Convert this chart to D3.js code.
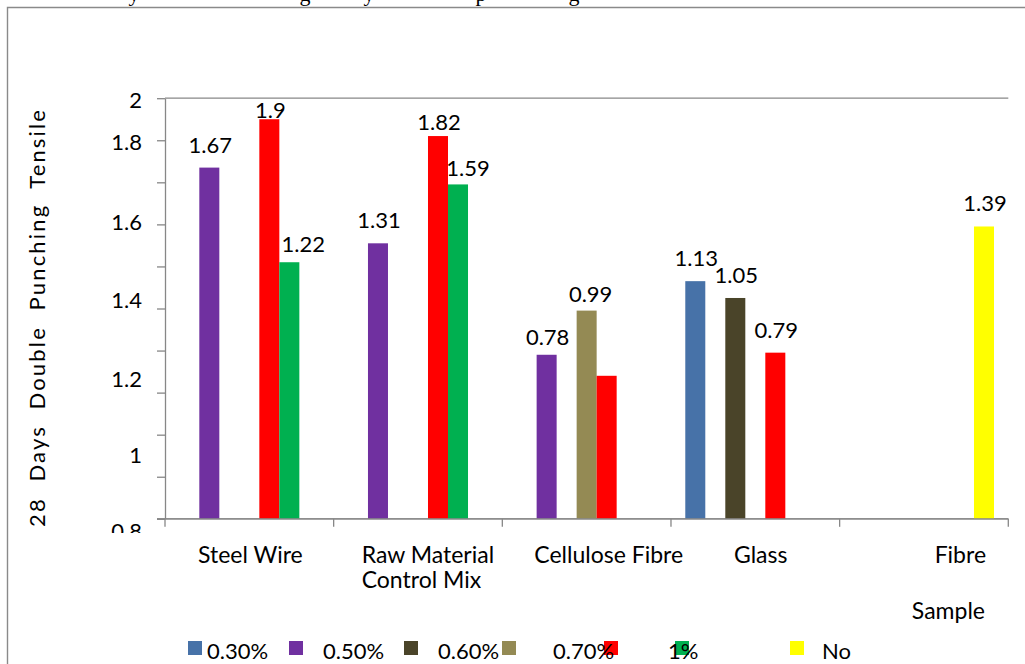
<!DOCTYPE html>
<html>
<head>
<meta charset="utf-8">
<script src="https://cdn.jsdelivr.net/npm/d3@7"></script>
<style>
  body { margin: 0; background: #fff; }
  svg { display: block; }
  text { font-family: Lato, "Noto Sans", sans-serif; fill: #000; }
</style>
</head>
<body>
<svg id="chart" width="1025" height="664"></svg>
<script>
// ---- data -------------------------------------------------------------
const categories = ["Steel Wire", "Raw Material Control Mix", "Cellulose Fibre", "Glass", "Fibre"];
const categoryLines = [["Steel Wire"], ["Raw Material", "Control Mix"], ["Cellulose Fibre"], ["Glass"], ["Fibre"]];

const seriesNames = ["0.30%", "0.50%", "0.60%", "0.70%", "", "1%", "No"];
const pct030  = [null, null, null, 1.13, null];
const pct050  = [1.67, 1.31, 0.78, null, null];
const pct060  = [null, null, null, 1.05, null];
const pct070  = [null, null, 0.99, null, null];
const redBars = [1.90, 1.82, 0.68, 0.79, null];
const pct100  = [1.22, 1.59, null, null, null];
const noFibre = [null, null, null, null, 1.39];
const redLabelled = [true, true, false, true, false];

const yTickText = ["2", "1.8", "1.6", "1.4", "1.2", "1", "0.8"];
const yTickAt   = [1.99, 1.79, 1.41, 1.04, 0.665, 0.305, -0.06];

const yTitle = "28  Days  Double  Punching  Tensile";
const xTitle = "Sample";

// ---- styling / layout --------------------------------------------------
const colors = ["#4772a8", "#7030a0", "#4a4429", "#948a54", "#ff0000", "#00b050", "#ffff00"];
const axisGrey = "#878787";
const catLabelDx = [33, 28, 32, 63, 95];          // label start, from band start
const legendSwatchX = [188, 289, 404, 502, 604, 675, 790];
const legendTextX   = [207, 323, 438, 553, null, 668, 822];
// [category index, series index, dx, dy] adjustments for crowded labels
const labelNudges = [[0, 4, 0, 14], [1, 4, 0, 9], [1, 5, 9, 7], [0, 5, 13, 5], [2, 1, 0, 5], [2, 3, 3, 6]];
const captionGlyphs = [["y", 134], ["g", 305], ["y", 369], ["p", 481], ["g", 574]];

const series = [pct030, pct050, pct060, pct070, redBars, pct100, noFibre].map((values, i) => ({
  index: i, name: seriesNames[i], color: colors[i], values,
  labelled: i === 4 ? redLabelled : values.map(v => v != null)
}));

// ---- scales -----------------------------------------------------------
const svg = d3.select("#chart");
const x0 = d3.scaleBand().domain(categories).range([165, 1008.3]);
const x1 = d3.scaleBand().domain(d3.range(series.length))
  .range([0, x0.bandwidth()]).paddingInner(0).paddingOuter(0.715);
const y = d3.scaleLinear().domain([0, 2]).range([518.8, 98.2]);

// ---- frame ------------------------------------------------------------
svg.append("path")
  .attr("d", "M7.5,700 V7.5 H1040")
  .attr("fill", "none").attr("stroke", "#8a8a8a").attr("stroke-width", 1.4);

// fragments of the caption line above the frame
svg.append("g").selectAll("text").data(captionGlyphs).join("text")
  .attr("x", d => d[1]).attr("y", 1)
  .attr("text-anchor", "middle")
  .style("font-family", "'Liberation Serif', serif").style("font-size", "22px")
  .text(d => d[0]);

// ---- axes -------------------------------------------------------------
const yAxis = d3.axisLeft(y).tickValues(d3.range(0, 2.001, 0.2)).tickSize(8).tickSizeOuter(0).tickFormat("");
const gy = svg.append("g").attr("transform", "translate(165,0)").call(yAxis);
gy.selectAll("path, line").attr("stroke", axisGrey).attr("stroke-width", 1.3);

svg.append("line")
  .attr("x1", 165).attr("x2", x0.range()[1])
  .attr("y1", y(2)).attr("y2", y(2))
  .attr("stroke", axisGrey).attr("stroke-width", 1.3);

const boundaries = categories.map(c => x0(c)).concat([x0.range()[1]]);
const gx = svg.append("g");
gx.append("line")
  .attr("x1", 157).attr("x2", x0.range()[1])
  .attr("y1", y(0)).attr("y2", y(0))
  .attr("stroke", axisGrey).attr("stroke-width", 1.3);
gx.selectAll("line.tick").data(boundaries).join("line")
  .attr("class", "tick")
  .attr("x1", d => d).attr("x2", d => d)
  .attr("y1", y(0)).attr("y2", y(0) + 8)
  .attr("stroke", axisGrey).attr("stroke-width", 1.3);

// y tick labels, clipped just below the baseline
svg.append("clipPath").attr("id", "yLabelClip")
  .append("rect").attr("x", 0).attr("y", 0).attr("width", 160).attr("height", 533);
svg.append("g").attr("clip-path", "url(#yLabelClip)")
  .selectAll("text").data(yTickText).join("text")
  .attr("x", 142)
  .attr("y", (d, i) => y(yTickAt[i]) + 7.9)
  .attr("text-anchor", "end")
  .style("font-size", "22px")
  .text(d => d);

// y title
svg.append("text")
  .attr("transform", "translate(45,318.5) rotate(-90)")
  .attr("text-anchor", "middle")
  .attr("textLength", 417).attr("lengthAdjust", "spacing")
  .style("font-size", "22px").style("white-space", "pre")
  .text(yTitle);

// category labels
const catG = svg.append("g").selectAll("text").data(categories).join("text")
  .attr("x", (d, i) => x0(d) + catLabelDx[i])
  .attr("y", 563)
  .style("font-size", "23px");
catG.selectAll("tspan").data((d, i) => categoryLines[i]).join("tspan")
  .attr("x", function () { return d3.select(this.parentNode).attr("x"); })
  .attr("dy", (d, j) => j === 0 ? 0 : 25)
  .text(d => d);

svg.append("text").attr("x", 985).attr("y", 619.3)
  .attr("text-anchor", "end").style("font-size", "23px").text(xTitle);

// ---- bars -------------------------------------------------------------
const barData = [];
series.forEach(s => s.values.forEach((v, ci) => {
  if (v != null) barData.push({ s, ci, v, cat: categories[ci], labelled: s.labelled[ci] });
}));

svg.append("g").selectAll("rect").data(barData).join("rect")
  .attr("x", d => x0(d.cat) + x1(d.s.index))
  .attr("width", x1.bandwidth())
  .attr("y", d => y(d.v))
  .attr("height", d => y(0) - y(d.v))
  .attr("fill", d => d.s.color);

// redraw the baseline over the bar feet
svg.append("line")
  .attr("x1", 157).attr("x2", x0.range()[1])
  .attr("y1", y(0)).attr("y2", y(0))
  .attr("stroke", axisGrey).attr("stroke-width", 1.3);

// value labels
function nudge(d) {
  const n = labelNudges.find(k => k[0] === d.ci && k[1] === d.s.index);
  return n ? [n[2], n[3]] : [0, 0];
}
svg.append("g").selectAll("text").data(barData.filter(d => d.labelled)).join("text")
  .attr("x", d => x0(d.cat) + x1(d.s.index) + x1.bandwidth() / 2 + 1 + nudge(d)[0])
  .attr("y", d => y(d.v) - 15 + nudge(d)[1])
  .attr("text-anchor", "middle")
  .style("font-size", "22px")
  .text(d => String(d.v));

// ---- legend -----------------------------------------------------------
const lg = svg.append("g");
lg.selectAll("rect").data(series).join("rect")
  .attr("x", d => legendSwatchX[d.index]).attr("y", 641)
  .attr("width", 14).attr("height", 14)
  .attr("fill", d => d.color);
lg.selectAll("text").data(series.filter(d => legendTextX[d.index] != null)).join("text")
  .attr("x", d => legendTextX[d.index]).attr("y", 659.3)
  .style("font-size", "22px")
  .text(d => d.name);
</script>
</body>
</html>
